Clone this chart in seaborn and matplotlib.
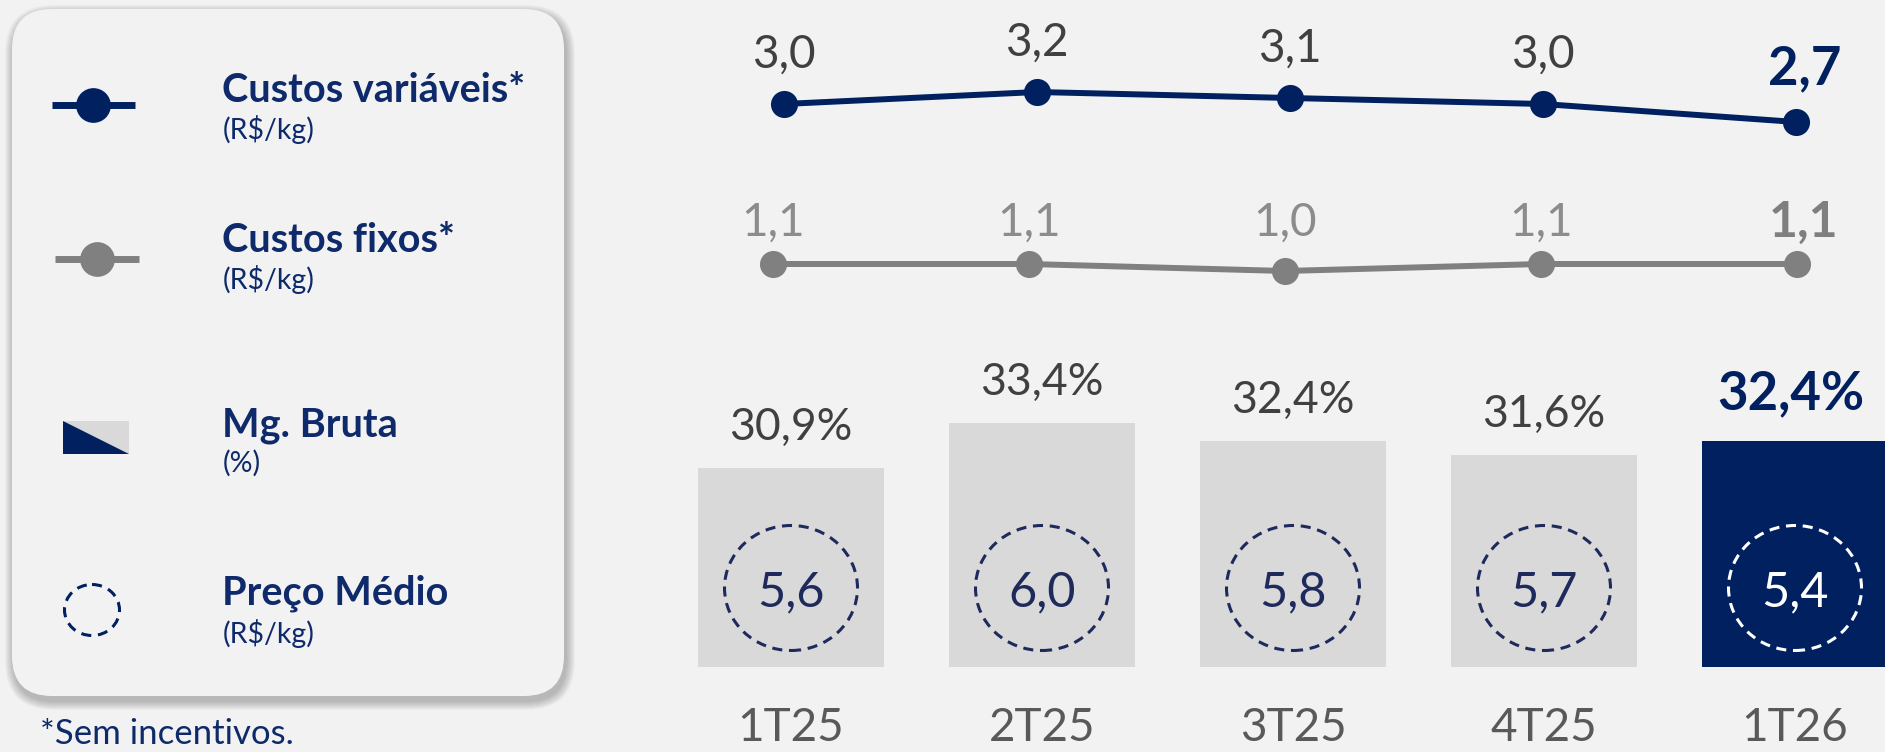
import pandas as pd
import seaborn as sns
import matplotlib.pyplot as plt
from matplotlib.patches import Ellipse, FancyBboxPatch, Rectangle, Polygon
from matplotlib.lines import Line2D

# ==========================================
# DATA
# ==========================================
trimestres = ["1T25", "2T25", "3T25", "4T25", "1T26"]
custos_variaveis = [3.0, 3.2, 3.1, 3.0, 2.7]   # R$/kg
custos_fixos = [1.1, 1.1, 1.0, 1.1, 1.1]       # R$/kg
margem_bruta = [30.9, 33.4, 32.4, 31.6, 32.4]  # %
preco_medio = [5.6, 6.0, 5.8, 5.7, 5.4]        # R$/kg

legend_titles = ["Custos variáveis*", "Custos fixos*", "Mg. Bruta", "Preço Médio"]
legend_units = ["(R$/kg)", "(R$/kg)", "(%)", "(R$/kg)"]
footnote = "*Sem incentivos."

# ==========================================
# STYLE
# ==========================================
NAVY = "#002060"
NAVY_TXT = "#0E2A6B"
CIRCLE = "#1F2A5C"
GRAY_LINE = "#808080"
GRAY_LBL = "#8C8C8C"
BAR_GRAY = "#D9D9D9"
TXT_DARK = "#404040"
TXT_CAT = "#595959"
BG = "#F2F2F2"

W, H = 1885, 752

sns.set_theme(style="white")
plt.rcParams["font.family"] = ["Lato", "DejaVu Sans"]


def fmt(v):
    return f"{v:.1f}".replace(".", ",")


fig = plt.figure(figsize=(W / 100, H / 100), dpi=100, facecolor=BG)


def px_axes(left, top, width, height, **kw):
    return fig.add_axes([left / W, 1 - (top + height) / H, width / W, height / H], **kw)


# ------------------------------------------
# Legend panel (drawn in pixel space)
# ------------------------------------------
ax_bg = px_axes(0, 0, W, H, zorder=-1)
ax_bg.set_xlim(0, W)
ax_bg.set_ylim(H, 0)
ax_bg.axis("off")

px0, py0, pw, ph = 12, 9, 552, 687
for s in range(1, 10):
    ax_bg.add_patch(FancyBboxPatch((px0 + 2, py0 + 5), pw, ph,
                                   boxstyle=f"round,pad={s},rounding_size={40 + s}",
                                   fc="black", ec="none", alpha=0.028))
ax_bg.add_patch(FancyBboxPatch((px0, py0), pw, ph,
                               boxstyle="round,pad=0,rounding_size=40",
                               fc=BG, ec="none"))

# glyphs
ax_bg.add_line(Line2D([52, 135], [105, 105], color=NAVY, lw=5, solid_capstyle="butt"))
ax_bg.plot([93], [105], "o", color=NAVY, ms=25, mew=0)
ax_bg.add_line(Line2D([55, 139], [259, 259], color=GRAY_LINE, lw=5, solid_capstyle="butt"))
ax_bg.plot([97], [259], "o", color=GRAY_LINE, ms=25, mew=0)
ax_bg.add_patch(Rectangle((63, 421), 66, 33, fc=BAR_GRAY, ec="none"))
ax_bg.add_patch(Polygon([(63, 421), (129, 454), (63, 454)], closed=True, fc=NAVY, ec="none"))
ax_bg.add_patch(Ellipse((92, 610), 55, 51, fill=False, ec=NAVY, lw=2.2, ls=(0, (3.3, 2.2))))

title_base = [102, 252, 436, 604]
unit_mid = [129, 280, 463, 633]
for t, u, yb, ym in zip(legend_titles, legend_units, title_base, unit_mid):
    ax_bg.text(222, yb, t, fontsize=28.5, fontweight="bold", color=NAVY_TXT,
               ha="left", va="baseline")
    ax_bg.text(223, ym, u, fontsize=20.5, color=NAVY_TXT, ha="left", va="center")

ax_bg.text(40, 744, footnote, fontsize=25, color=NAVY_TXT, ha="left", va="baseline")

# ------------------------------------------
# Bars: Mg. Bruta + Preco Medio circles
# ------------------------------------------
BAR_STEP = 251
ax_bar = px_axes(791 - BAR_STEP / 2, 0, BAR_STEP * 5, 667)
df_bar = pd.DataFrame({"tri": trimestres, "mg": margem_bruta})
bar_colors = [BAR_GRAY] * (len(trimestres) - 1) + [NAVY]
sns.barplot(data=df_bar, x="tri", y="mg", hue="tri", palette=bar_colors,
            saturation=1, width=0.745, legend=False, linewidth=0, edgecolor="none",
            ax=ax_bar)

y_base = 19.84
ax_bar.set_xlim(-0.5, len(trimestres) - 0.5)
ax_bar.set_ylim(y_base, y_base + 667 / 18)
ax_bar.set_facecolor("none")
for sp in ax_bar.spines.values():
    sp.set_visible(False)
ax_bar.set_yticks([])
ax_bar.set_xlabel("")
ax_bar.set_ylabel("")
ax_bar.tick_params(axis="x", length=0, pad=29, labelsize=33, labelcolor=TXT_CAT)

last = len(trimestres) - 1
for i, v in enumerate(margem_bruta):
    if i == last:
        ax_bar.annotate(f"{fmt(v)}%", (i, v), xytext=(-3, 34), textcoords="offset points",
                        ha="center", va="center", fontsize=38, fontweight="bold", color=NAVY)
    else:
        ax_bar.annotate(f"{fmt(v)}%", (i, v), xytext=(0, 29.5), textcoords="offset points",
                        ha="center", va="center", fontsize=32, color=TXT_DARK)

circle_y = y_base + (667 - 588) / 18
for i, p in enumerate(preco_medio):
    col = "white" if i == last else CIRCLE
    ax_bar.add_patch(Ellipse((i, circle_y), 133 / BAR_STEP, 125 / 18, fill=False,
                             ec=col, lw=2.2, ls=(0, (3.3, 2.2))))
    ax_bar.text(i, circle_y, fmt(p), ha="center", va="center_baseline",
                fontsize=35, color=col)

# ------------------------------------------
# Lines: custos variaveis
# ------------------------------------------
xs = list(range(len(trimestres)))

VAR_STEP = 253
ax_var = px_axes(784 - VAR_STEP / 2, 0, VAR_STEP * 5, H)
sns.lineplot(x=xs, y=custos_variaveis, ax=ax_var, color=NAVY, linewidth=4.3,
             marker="o", markersize=19.5, markeredgewidth=0)
ax_var.set_xlim(-0.5, len(trimestres) - 0.5)
ax_var.set_ylim(3.0 + 104 / 60 - H / 60, 3.0 + 104 / 60)
ax_var.axis("off")
for i, v in enumerate(custos_variaveis):
    if i == last:
        ax_var.annotate(fmt(v), (i, v), xytext=(6, 38.5), textcoords="offset points",
                        ha="center", va="center", fontsize=38, fontweight="bold", color=NAVY)
    else:
        ax_var.annotate(fmt(v), (i, v), xytext=(0, 35.5), textcoords="offset points",
                        ha="center", va="center", fontsize=33, color=TXT_DARK)

# ------------------------------------------
# Lines: custos fixos
# ------------------------------------------
FIX_STEP = 256
ax_fix = px_axes(773 - FIX_STEP / 2, 0, FIX_STEP * 5, H)
sns.lineplot(x=xs, y=custos_fixos, ax=ax_fix, color=GRAY_LINE, linewidth=4.3,
             marker="o", markersize=19.5, markeredgewidth=0)
ax_fix.set_xlim(-0.5, len(trimestres) - 0.5)
ax_fix.set_ylim(1.1 + 264 / 70 - H / 70, 1.1 + 264 / 70)
ax_fix.axis("off")
top_fix = max(custos_fixos)
for i, v in enumerate(custos_fixos):
    if i == last:
        ax_fix.annotate(fmt(v), (i, top_fix), xytext=(5, 30), textcoords="offset points",
                        ha="center", va="center", fontsize=36, fontweight="bold", color="#7F7F7F")
    else:
        ax_fix.annotate(fmt(v), (i, top_fix), xytext=(0, 30), textcoords="offset points",
                        ha="center", va="center", fontsize=33, color=GRAY_LBL)

fig.savefig("out.png", dpi=100, facecolor=BG)
